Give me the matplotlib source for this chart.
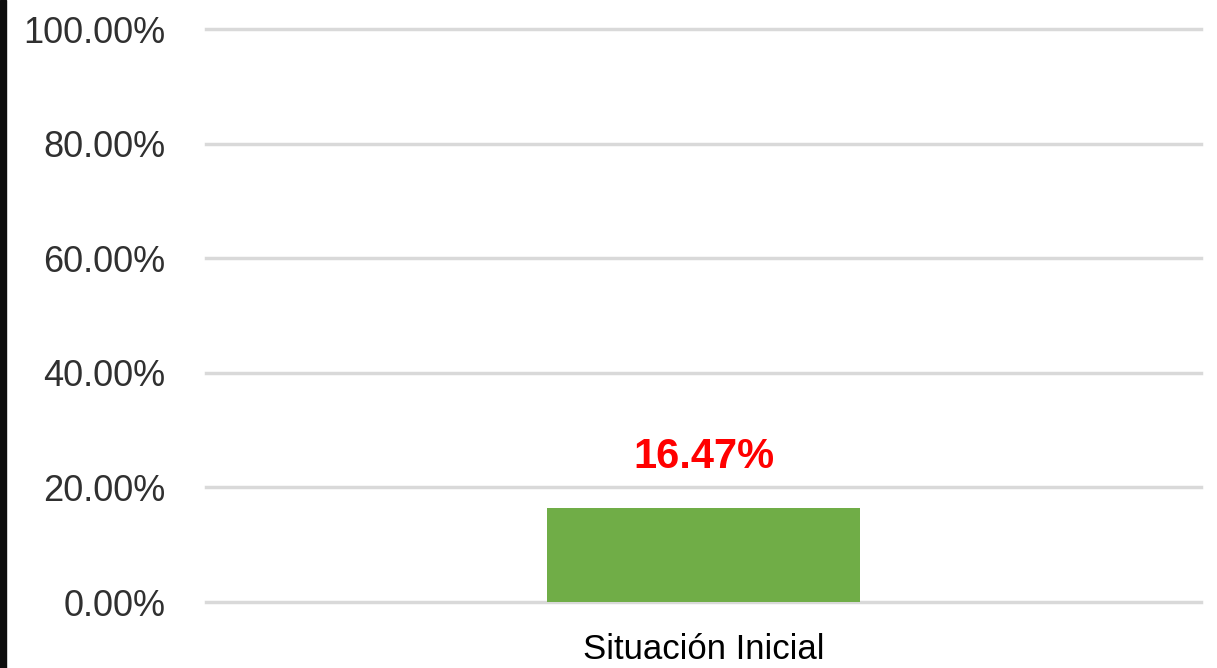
import matplotlib
matplotlib.use("Agg")
import matplotlib.pyplot as plt
from matplotlib.patches import Rectangle
from matplotlib.ticker import FuncFormatter

categories = ["Situación Inicial"]
values = [0.1647]
yticks = [0.0, 0.2, 0.4, 0.6, 0.8, 1.0]

plt.rcParams['font.family'] = ['Liberation Sans', 'DejaVu Sans']

fig = plt.figure(figsize=(12.17, 6.68), dpi=100)
ax = fig.add_axes([206/1217, 1 - 602/668, (1201-206)/1217, (602-29)/668])

x = list(range(len(categories)))
ax.bar(x, values, width=0.3146, color="#70AD47", zorder=3)
ax.set_xlim(-0.5, 0.5)
ax.set_ylim(0, 1.0)
ax.set_yticks(yticks)
ax.yaxis.set_major_formatter(FuncFormatter(lambda v, p: f"{v*100:.2f}%"))
ax.set_xticks(x)
ax.set_xticklabels(categories)
ax.tick_params(axis='y', length=0, pad=29, labelsize=26, labelcolor="#303030")
ax.tick_params(axis='x', length=0, pad=22, labelsize=25, labelcolor="#000000")
ax.grid(axis='y', color="#D9D9D9", linewidth=2.5, zorder=0)
for gl in ax.get_ygridlines():
    gl.set_clip_on(False)
for s in ax.spines.values():
    s.set_visible(False)

for xi, v in zip(x, values):
    ax.annotate(f"{v*100:.2f}%", (xi, v), xytext=(0, 22), textcoords="offset points",
                ha="center", va="bottom", color="#FF0000", fontsize=30, fontweight="bold")

fig.patches.append(Rectangle((0, 0), 6/1217, 1, transform=fig.transFigure,
                             color="#0D0D0D", zorder=10))

fig.savefig("out.png", dpi=100)
